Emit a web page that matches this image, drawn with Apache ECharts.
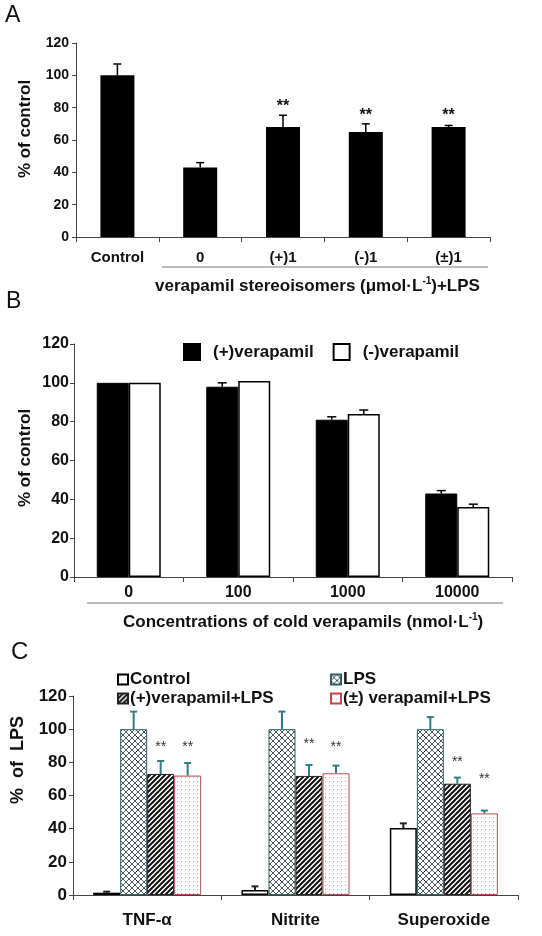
<!DOCTYPE html>
<html><head><meta charset="utf-8">
<script src="https://cdn.jsdelivr.net/npm/echarts@6/dist/echarts.min.js"></script>
<style>html,body{margin:0;padding:0;background:#fff}#c{width:542px;height:936px}</style>
</head><body><div id="c"></div>
<script>
// ---------- Panel A ----------
const catsA = ['Control', '0', '(+)1', '(-)1', '(±)1'];
const valsA = [100, 43, 68, 65, 68];
const errA  = [107, 46, 75.3, 70, 69];
const starA = [null, null, 80.6, 75.4, 75.4];
// ---------- Panel B ----------
const catsB = ['0', '100', '1000', '10000'];
const plusB = [100, 98, 81, 43];
const plusErrB = [100, 100, 82.5, 44.5];
const minusB = [100, 101, 84, 36];
const minusErrB = [100, 101, 86, 37.5];
// ---------- Panel C ----------
const catsC = ['TNF-α', 'Nitrite', 'Superoxide'];
const ctrlC = [1.4, 3, 40.4];
const ctrlErrC = [2, 5.2, 43.2];
const lpsC = [100, 100, 100];
const lpsErrC = [110.6, 110.6, 107.3];
const plusC = [73, 71.8, 67.1];
const plusErrC = [80.8, 78.4, 70.8];
const pmC = [72, 73.4, 49.2];
const pmErrC = [79.6, 78, 50.9];
const starPlusC = [89.4, 91, 80.4];
const starPmC = [89.4, 89.4, 70];
const yTicks = [0, 20, 40, 60, 80, 100, 120];

const FF = '"Liberation Sans", Arial, sans-serif';

function pattern(kind) {
  const c = document.createElement('canvas');
  const ctx = c.getContext('2d');
  if (kind === 'cross') {
    c.width = 6; c.height = 6;
    ctx.fillStyle = '#fff'; ctx.fillRect(0, 0, 6, 6);
    ctx.strokeStyle = '#4c5c5c'; ctx.lineWidth = 1;
    ctx.beginPath();
    ctx.moveTo(0, 0); ctx.lineTo(6, 6);
    ctx.moveTo(0, 6); ctx.lineTo(6, 0);
    ctx.stroke();
  } else if (kind === 'stripe') {
    c.width = 5; c.height = 5;
    ctx.fillStyle = '#fff'; ctx.fillRect(0, 0, 5, 5);
    ctx.strokeStyle = '#111'; ctx.lineWidth = 2;
    ctx.beginPath();
    ctx.moveTo(-1, 6); ctx.lineTo(6, -1);
    ctx.moveTo(-6, 6); ctx.lineTo(1, -1);
    ctx.moveTo(4, 6); ctx.lineTo(11, -1);
    ctx.stroke();
  } else {
    c.width = 4; c.height = 4;
    ctx.fillStyle = '#fff'; ctx.fillRect(0, 0, 4, 4);
    ctx.fillStyle = '#b9a8a8'; ctx.fillRect(1, 1, 1, 1);
  }
  return { image: c, repeat: 'repeat' };
}

function errRender(offset, color, capW, lw) {
  return function (params, api) {
    const i = api.value(0), v = api.value(1), e = api.value(2);
    if (!(e > v)) return null;
    const p0 = api.coord([i, v]), p1 = api.coord([i, e]);
    const x = p0[0] + offset;
    return { type: 'group', children: [
      { type: 'line', shape: { x1: x, y1: p0[1], x2: x, y2: p1[1] }, style: { stroke: color, lineWidth: lw } },
      { type: 'line', shape: { x1: x - capW / 2, y1: p1[1], x2: x + capW / 2, y2: p1[1] }, style: { stroke: color, lineWidth: lw } }
    ] };
  };
}
function starRender(offset, font, color) {
  return function (params, api) {
    const i = api.value(0), v = api.value(1);
    if (v == null || isNaN(v)) return null;
    const p = api.coord([i, v]);
    return { type: 'text', x: p[0] + offset, y: p[1], style: { text: '**', align: 'center', verticalAlign: 'middle', font: font, fill: color } };
  };
}
function errSeries(xi, vals, errs, offset, color, capW, lw) {
  return { type: 'custom', xAxisIndex: xi, yAxisIndex: xi, z: 5, silent: true,
    renderItem: errRender(offset, color, capW, lw),
    data: vals.map((v, i) => [i, v, errs[i]]) };
}
function starSeries(xi, stars, offset, font, color) {
  return { type: 'custom', xAxisIndex: xi, yAxisIndex: xi, z: 6, silent: true,
    renderItem: starRender(offset, font, color),
    data: stars.map((v, i) => [i, v == null ? NaN : v]) };
}

const axisLineStyle = { color: '#444', width: 1 };
function yAxis(gi, fs, margin) {
  return { type: 'value', gridIndex: gi, min: 0, max: 120, interval: 20,
    splitLine: { show: false },
    axisLine: { show: true, lineStyle: axisLineStyle },
    axisTick: { show: true, length: 4, lineStyle: axisLineStyle },
    axisLabel: { margin: margin, fontFamily: FF, fontWeight: 'bold', fontSize: fs, color: '#111' } };
}
function xAxis(gi, cats, fs, margin) {
  return { type: 'category', gridIndex: gi, data: cats,
    axisLine: { lineStyle: axisLineStyle },
    axisTick: { show: true, length: 5, lineStyle: axisLineStyle },
    axisLabel: { margin: margin, fontFamily: FF, fontWeight: 'bold', fontSize: fs, color: '#111', interval: 0 } };
}

const chart = echarts.init(document.getElementById('c'), null, { renderer: 'canvas' });
const lpsPat = pattern('cross'), stripePat = pattern('stripe'), dotPat = pattern('dot');
const teal = '#2f7f80';

chart.setOption({
  animation: false,
  backgroundColor: '#fff',
  grid: [
    { left: 76, top: 43, width: 414, height: 194 },
    { left: 74, top: 344, width: 438, height: 233 },
    { left: 73, top: 696, width: 445, height: 199 }
  ],
  xAxis: [ xAxis(0, catsA, 15, 13), xAxis(1, catsB, 16, 8), xAxis(2, catsC, 17, 17) ],
  yAxis: [ yAxis(0, 14, 7), yAxis(1, 16, 5), yAxis(2, 17, 6) ],
  legend: [
    { data: ['(+)verapamil', '(-)verapamil'], left: 178, top: 338, itemWidth: 16, itemHeight: 16, itemGap: 19,
      icon: 'rect', textStyle: { fontFamily: FF, fontWeight: 'bold', fontSize: 17, color: '#111', padding: [0, 0, 0, 8] } },
    { data: ['Control', '(+)verapamil+LPS'], left: 112, top: 666, orient: 'vertical', itemWidth: 10, itemHeight: 10, itemGap: 2,
      icon: 'rect', textStyle: { fontFamily: FF, fontWeight: 'bold', fontSize: 17, lineHeight: 17, color: '#111', padding: [0, 0, 0, -3] } },
    { data: ['LPS', '(±) verapamil+LPS'], left: 325, top: 666, orient: 'vertical', itemWidth: 10, itemHeight: 10, itemGap: 2,
      icon: 'rect', textStyle: { fontFamily: FF, fontWeight: 'bold', fontSize: 17, lineHeight: 17, color: '#111', padding: [0, 0, 0, -3] } }
  ],
  series: [
    // Panel A
    { type: 'bar', name: 'A', xAxisIndex: 0, yAxisIndex: 0, barWidth: 34, data: valsA, itemStyle: { color: '#000' } },
    errSeries(0, valsA, errA, 0, '#000', 8, 1.5),
    starSeries(0, starA, 0, 'bold 16px ' + FF, '#111'),
    // Panel B
    { type: 'bar', name: '(+)verapamil', xAxisIndex: 1, yAxisIndex: 1, barWidth: 32, barGap: '0%', data: plusB,
      itemStyle: { color: '#000', borderColor: '#000', borderWidth: 1 } },
    { type: 'bar', name: '(-)verapamil', xAxisIndex: 1, yAxisIndex: 1, barWidth: 32, barGap: '0%', data: minusB,
      itemStyle: { color: '#fff', borderColor: '#000', borderWidth: 1.5 } },
    errSeries(1, plusB, plusErrB, -16, '#000', 9, 1.5),
    errSeries(1, minusB, minusErrB, 16, '#000', 9, 1.5),
    // Panel C
    { type: 'bar', name: 'Control', xAxisIndex: 2, yAxisIndex: 2, barWidth: 27, barGap: '0%', data: ctrlC,
      itemStyle: { color: '#fff', borderColor: '#000', borderWidth: 1.5 } },
    { type: 'bar', name: 'LPS', xAxisIndex: 2, yAxisIndex: 2, barWidth: 27, barGap: '0%', data: lpsC,
      itemStyle: { color: lpsPat, borderColor: '#2a6262', borderWidth: 1 } },
    { type: 'bar', name: '(+)verapamil+LPS', xAxisIndex: 2, yAxisIndex: 2, barWidth: 27, barGap: '0%', data: plusC,
      itemStyle: { color: stripePat, borderColor: '#222', borderWidth: 1 } },
    { type: 'bar', name: '(±) verapamil+LPS', xAxisIndex: 2, yAxisIndex: 2, barWidth: 27, barGap: '0%', data: pmC,
      itemStyle: { color: dotPat, borderColor: '#b84c4c', borderWidth: 1 } },
    errSeries(2, ctrlC, ctrlErrC, -40.5, '#222', 7, 2),
    errSeries(2, lpsC, lpsErrC, -13.5, teal, 7, 2),
    errSeries(2, plusC, plusErrC, 13.5, teal, 7, 2),
    errSeries(2, pmC, pmErrC, 40.5, teal, 7, 2),
    starSeries(2, starPlusC, 13.5, '14px ' + FF, '#333'),
    starSeries(2, starPmC, 40.5, '14px ' + FF, '#333')
  ],
  graphic: [
    { type: 'text', x: 5, y: 16, style: { text: 'A', font: '23px ' + FF, fill: '#111', verticalAlign: 'middle' } },
    { type: 'text', x: 6, y: 302, style: { text: 'B', font: '23px ' + FF, fill: '#111', verticalAlign: 'middle' } },
    { type: 'text', x: 11, y: 652, style: { text: 'C', font: '24px ' + FF, fill: '#111', verticalAlign: 'middle' } },
    { type: 'text', x: 25, y: 129, rotation: Math.PI / 2, style: { text: '% of control', font: 'bold 17px ' + FF, fill: '#111', align: 'center', verticalAlign: 'middle' } },
    { type: 'text', x: 25, y: 458, rotation: Math.PI / 2, style: { text: '% of control', font: 'bold 17px ' + FF, fill: '#111', align: 'center', verticalAlign: 'middle' } },
    { type: 'text', x: 18, y: 760, rotation: Math.PI / 2, style: { text: '%  of  LPS', font: 'bold 18px ' + FF, fill: '#111', align: 'center', verticalAlign: 'middle' } },
    { type: 'line', shape: { x1: 162, y1: 267, x2: 488, y2: 267 }, style: { stroke: '#777', lineWidth: 1 } },
    { type: 'line', shape: { x1: 87, y1: 603, x2: 503, y2: 603 }, style: { stroke: '#777', lineWidth: 1 } },
    { type: 'text', x: 155, y: 286, style: { text: '{a|verapamil stereoisomers (μmol·L}{s|-1}{a|)+LPS}', verticalAlign: 'middle',
        rich: { a: { font: 'bold 17px ' + FF, fill: '#111' }, s: { font: 'bold 10px ' + FF, fill: '#111', padding: [0, 0, 9, 0] } } } },
    { type: 'text', x: 123, y: 622, style: { text: '{a|Concentrations of cold verapamils (nmol·L}{s|-1}{a|)}', verticalAlign: 'middle',
        rich: { a: { font: 'bold 17px ' + FF, fill: '#111' }, s: { font: 'bold 10px ' + FF, fill: '#111', padding: [0, 0, 9, 0] } } } }
  ]
});
</script></body></html>
